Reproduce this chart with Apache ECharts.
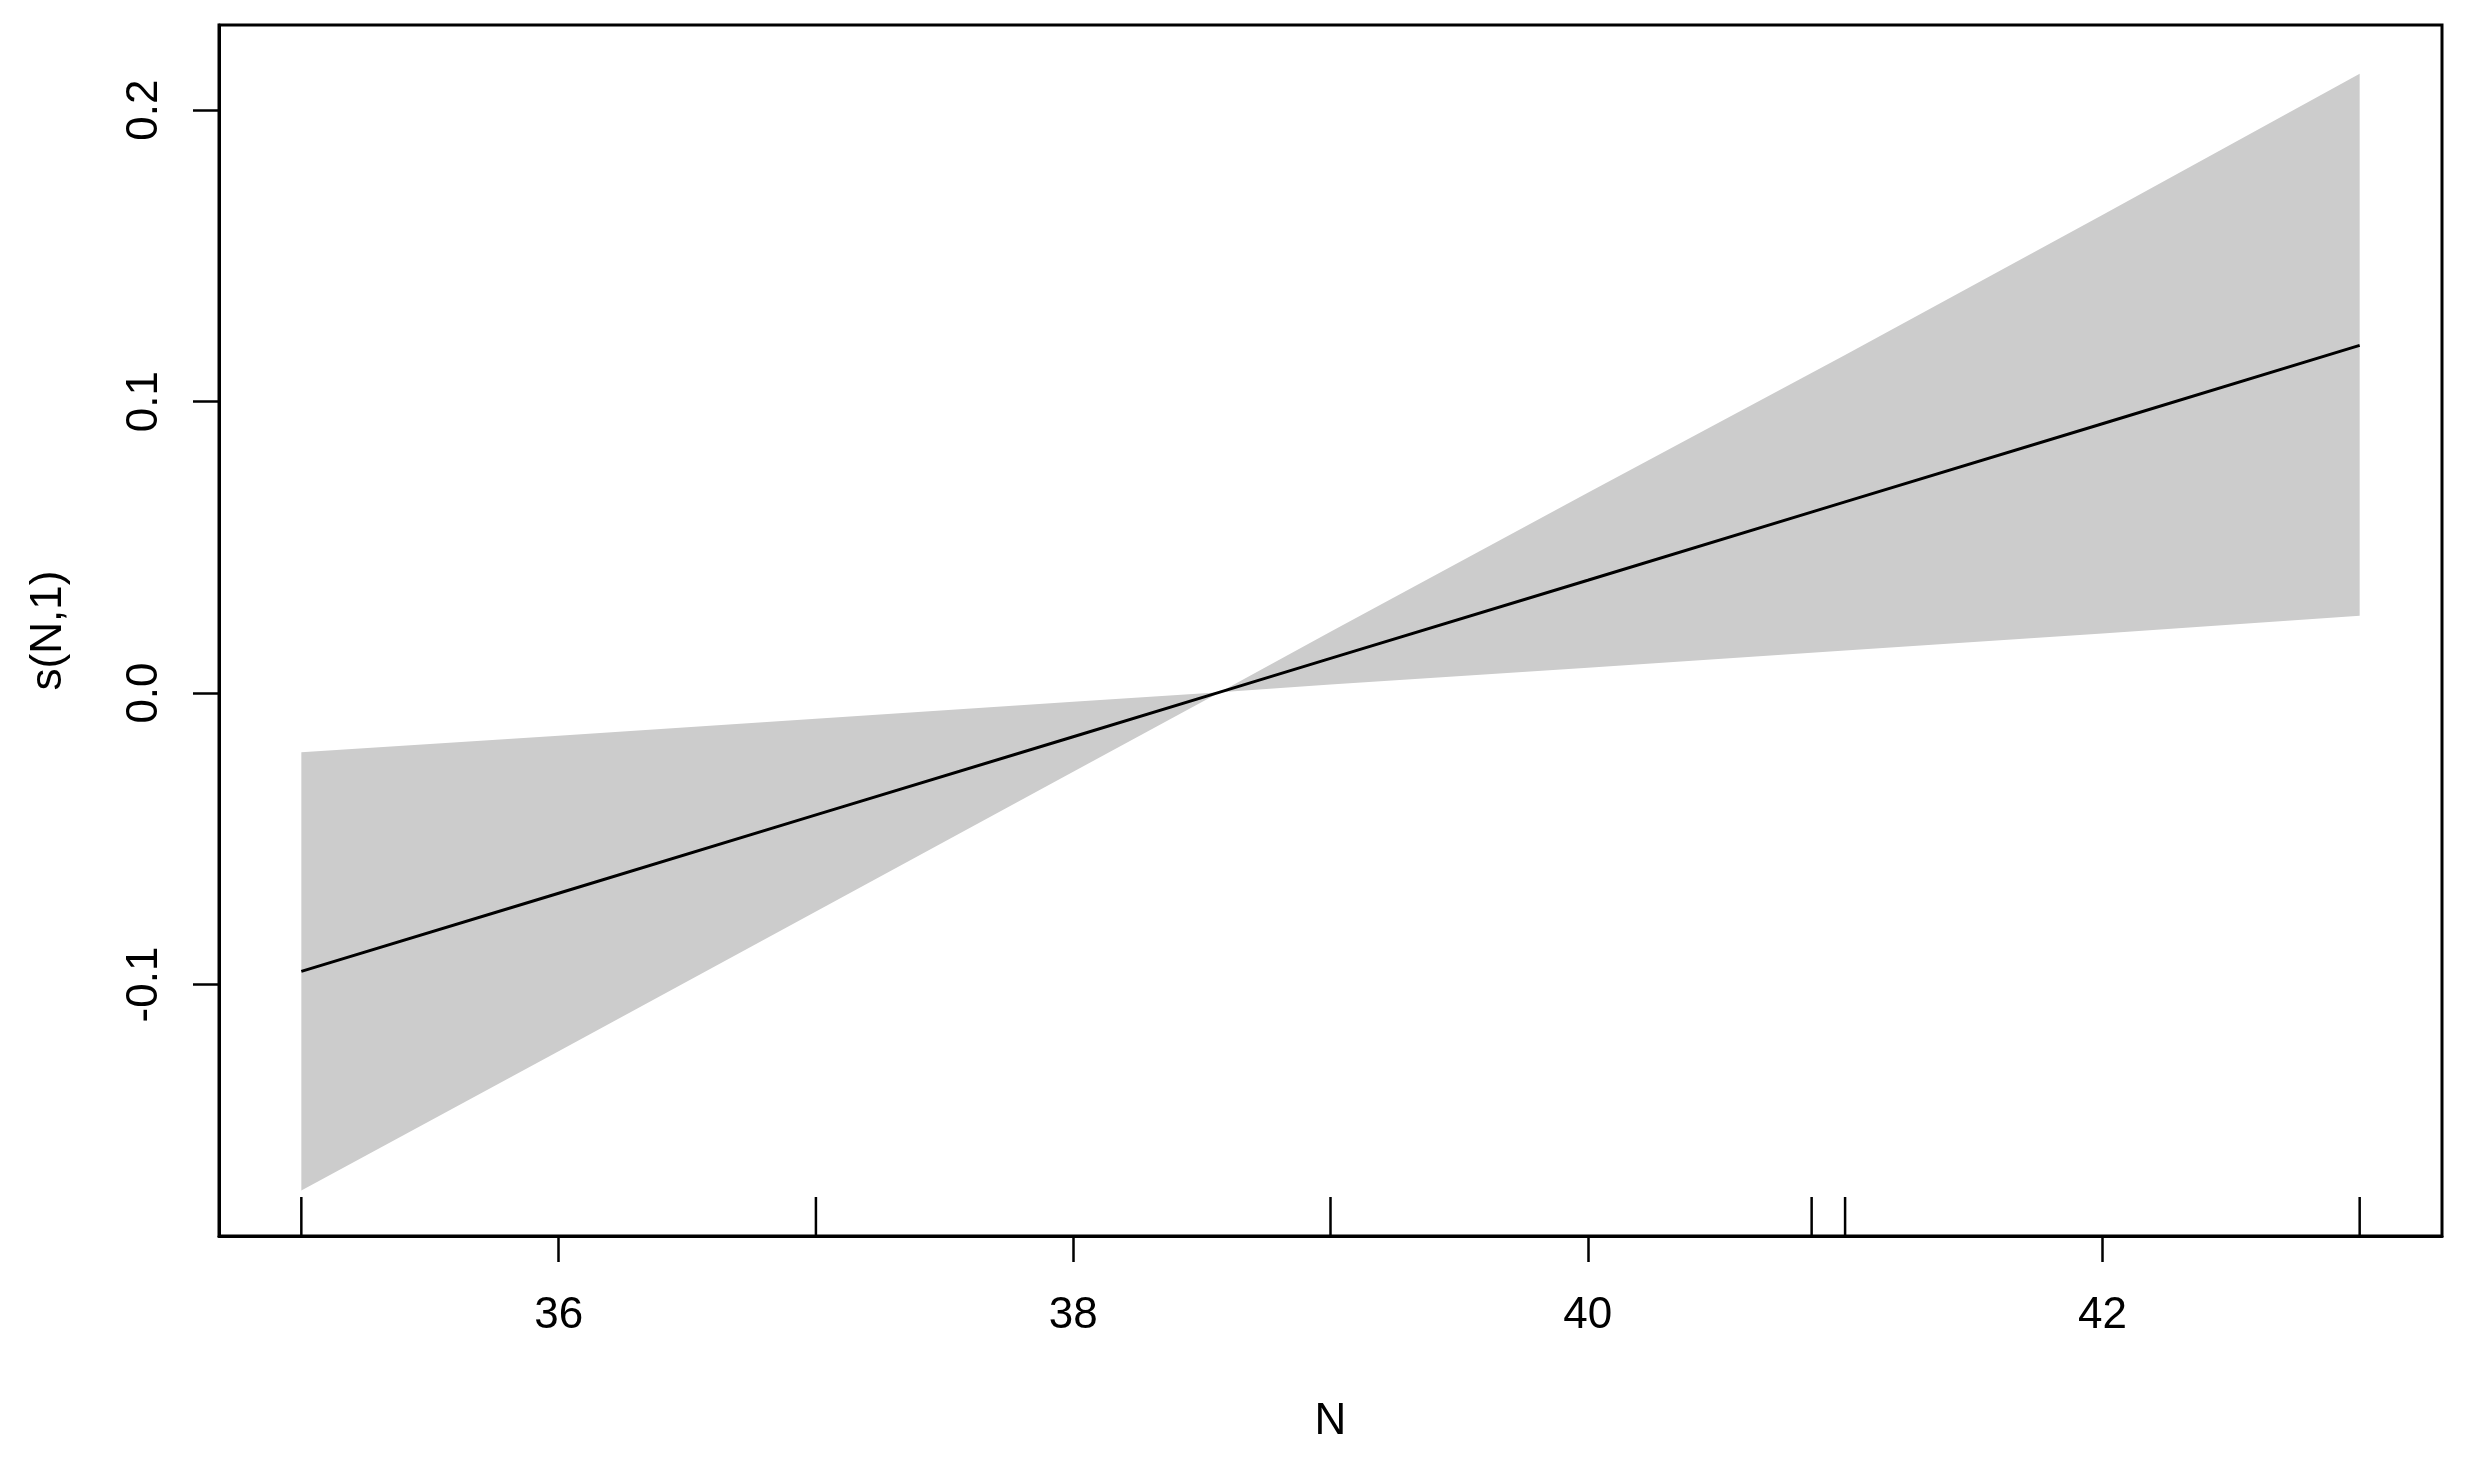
<!DOCTYPE html>
<html>
<head>
<meta charset="utf-8">
<script src="https://cdn.jsdelivr.net/npm/echarts@6/dist/echarts.min.js"></script>
<style>
  html, body { margin: 0; padding: 0; background: #fff; }
  #chart { width: 2470px; height: 1458px; }
</style>
</head>
<body>
<div id="chart"></div>
<script>
// s(N,1) smooth term with its confidence band
const nValues = [35, 36, 37, 38, 38.57, 39, 40, 41, 42, 43];
const fit     = [-0.0955, -0.0687, -0.0418, -0.0150, 0.0003, 0.0119, 0.0387, 0.0656, 0.0924, 0.1193];
const upper   = [-0.0203, -0.0147, -0.0088, -0.0030, 0.0003, 0.0210, 0.0687, 0.1160, 0.1640, 0.2125];
const lower   = [-0.1707, -0.1229, -0.0750, -0.0270, 0.0003, 0.0029, 0.0087, 0.0146, 0.0204, 0.0265];

// rug marks along the bottom edge
const rugValues = [35, 37, 39, 40.87, 41, 43];

// tick labels
const xTicks = [36, 38, 40, 42];
const yTicks = [-0.1, 0.0, 0.1, 0.2];

const xMin = 34.68, xMax = 43.32;
const yMin = -0.1863, yMax = 0.2292;

const font = "'Liberation Sans', Arial, sans-serif";
const fontSize = 44;

const chart = echarts.init(document.getElementById("chart"));

const option = {
  animation: false,
  backgroundColor: "#fff",
  grid: {
    left: 219,
    right: 28,
    top: 25,
    bottom: 222,
    show: true,
    borderColor: "#000",
    borderWidth: 3,
  },
  xAxis: {
    type: "value",
    min: xMin,
    max: xMax,
    name: "N",
    nameLocation: "middle",
    nameGap: 164,
    nameTextStyle: { color: "#000", fontSize, fontFamily: font },
    axisLine: { show: true, onZero: false, lineStyle: { color: "#000", width: 3 } },
    axisTick: { show: true, length: 26, customValues: xTicks, lineStyle: { color: "#000", width: 2.5 } },
    axisLabel: {
      customValues: xTicks,
      margin: 58,
      color: "#000",
      fontSize,
      fontFamily: font,
      formatter: (v) => String(v),
    },
    splitLine: { show: false },
  },
  yAxis: {
    type: "value",
    min: yMin,
    max: yMax,
    name: "s(N,1)",
    nameLocation: "middle",
    nameRotate: 90,
    nameGap: 148,
    nameTextStyle: { color: "#000", fontSize, fontFamily: font },
    axisLine: { show: true, onZero: false, lineStyle: { color: "#000", width: 3 } },
    axisTick: { show: true, length: 26, customValues: yTicks, lineStyle: { color: "#000", width: 2.5 } },
    axisLabel: {
      customValues: yTicks,
      rotate: 90,
      margin: 52,
      color: "#000",
      fontSize,
      fontFamily: font,
      formatter: (v) => v.toFixed(1),
    },
    splitLine: { show: false },
  },
  series: [
    {
      // confidence band
      type: "custom",
      silent: true,
      data: [[nValues[0], fit[0]]],
      renderItem: (params, api) => {
        const pts = [];
        nValues.forEach((x, i) => pts.push(api.coord([x, upper[i]])));
        for (let i = nValues.length - 1; i >= 0; i--) pts.push(api.coord([nValues[i], lower[i]]));
        return {
          type: "polygon",
          shape: { points: pts },
          style: { fill: "#cccccc", stroke: null },
        };
      },
      z: 1,
    },
    {
      type: "line",
      data: nValues.map((x, i) => [x, fit[i]]),
      symbol: "none",
      lineStyle: { color: "#000", width: 3 },
      z: 2,
    },
    {
      // rug
      type: "custom",
      silent: true,
      data: rugValues.map((x) => [x, yMin]),
      renderItem: (params, api) => {
        const p = api.coord([api.value(0), yMin]);
        return {
          type: "line",
          shape: { x1: p[0], y1: p[1], x2: p[0], y2: p[1] - 39 },
          style: { stroke: "#000", lineWidth: 2.5 },
        };
      },
      z: 3,
    },
  ],
};

chart.setOption(option);
</script>
</body>
</html>
